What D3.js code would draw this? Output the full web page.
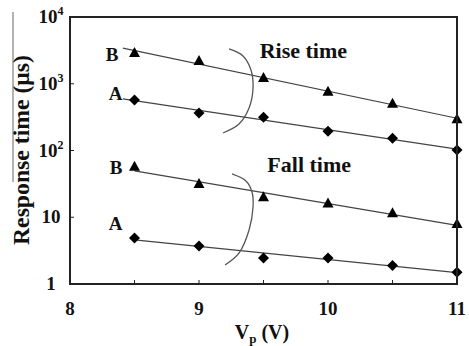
<!DOCTYPE html>
<html>
<head>
<meta charset="utf-8">
<script src="https://cdn.jsdelivr.net/npm/d3@7"></script>
<style>
  html, body { margin: 0; padding: 0; background: #fff; }
  svg { display: block; }
</style>
</head>
<body>
<svg id="chart" width="469" height="346"></svg>
<script>
// Applied voltage Vp (V)
const voltages = [8.5, 9, 9.5, 10, 10.5, 11];

// Response times in microseconds
const riseB = [2900, 2200, 1220, 760, 500, 295];
const riseA = [570, 365, 315, 195, 153, 102];
const fallB = [57, 31.6, 20, 16, 11.5, 7.9];
const fallA = [4.9, 3.7, 2.45, 2.45, 1.9, 1.5];

const seriesNames = ["B", "A", "B", "A"];
const seriesShapes = ["triangle", "diamond", "triangle", "diamond"];
const fitStart = [8.41, 8.41, 8.5, 8.5];

const xTicks = [8, 8.5, 9, 9.5, 10, 10.5, 11];
const xTickLabels = ["8", "", "9", "", "10", "", "11"];
const yTicks = [1, 10, 100, 1000, 10000];
const yTickLabels = [["1", ""], ["10", ""], ["10", "2"], ["10", "3"], ["10", "4"]];

// Bracket curves grouping each pair of series: [voltage, time]
const riseBracket = [[9.233, 3318], [9.341, 2606], [9.403, 1607], [9.419, 863], [9.388, 433], [9.310, 249], [9.186, 183]];
const fallBracket = [[9.256, 44.5], [9.364, 34.9], [9.411, 23.9], [9.419, 14.2], [9.388, 6.44], [9.310, 2.91], [9.202, 1.93]];
const groupTitles = [["Rise time", 9.47, 2430], ["Fall time", 9.53, 48]];

const FONT = '"Liberation Serif", "Times New Roman", serif';

const margin = { left: 70, top: 17, right: 12, bottom: 62 };
const W = 469, H = 346;
const iw = W - margin.left - margin.right;
const ih = H - margin.top - margin.bottom;

const svg = d3.select("#chart");
const g = svg.append("g").attr("transform", `translate(${margin.left},${margin.top})`);

const x = d3.scaleLinear().domain([8, 11]).range([0, iw]);
const y = d3.scaleLog().domain([1, 10000]).range([ih, 0]);

const series = [riseB, riseA, fallB, fallA];

// Least-squares fit of log10(time) against voltage
function fit(vals) {
  const lx = voltages, ly = vals.map(v => Math.log10(v));
  const mx = d3.mean(lx), my = d3.mean(ly);
  let sxy = 0, sxx = 0;
  lx.forEach((xv, i) => { sxy += (xv - mx) * (ly[i] - my); sxx += (xv - mx) ** 2; });
  const b = sxy / sxx, a = my - b * mx;
  return v => Math.pow(10, a + b * v);
}

const line = d3.line().x(d => x(d[0])).y(d => y(d[1]));

series.forEach((vals, i) => {
  const f = fit(vals);
  g.append("path")
    .attr("d", line([[fitStart[i], f(fitStart[i])], [11, f(11)]]))
    .attr("fill", "none")
    .attr("stroke", "#444")
    .attr("stroke-width", 1.2);
});

// Markers: filled triangle and square diamond
const triPath = "M0,-6L5.5,4L-5.5,4Z";
const diaPath = "M0,-5.5L5.5,0L0,5.5L-5.5,0Z";
series.forEach((vals, i) => {
  g.selectAll(null)
    .data(vals.map((v, j) => [voltages[j], v]))
    .join("path")
    .attr("transform", d => `translate(${x(d[0])},${y(d[1])})`)
    .attr("d", seriesShapes[i] === "triangle" ? triPath : diaPath)
    .attr("fill", "#000");
});

function txt(sel) {
  return sel.style("font-family", FONT).attr("fill", "#111");
}

// Series labels
const labelOffsets = [[-16, 8], [-12, 0], [-12, 7], [-12, -8]];
series.forEach((vals, i) => {
  txt(g.append("text"))
    .attr("x", x(voltages[0]) + labelOffsets[i][0])
    .attr("y", y(vals[0]) + labelOffsets[i][1])
    .attr("text-anchor", "end")
    .attr("font-size", 19)
    .attr("font-weight", "bold")
    .text(seriesNames[i]);
});

// Brackets
const curve = d3.line().x(d => x(d[0])).y(d => y(d[1])).curve(d3.curveCatmullRom);
[riseBracket, fallBracket].forEach(b => {
  g.append("path")
    .attr("d", curve(b))
    .attr("fill", "none")
    .attr("stroke", "#555")
    .attr("stroke-width", 1.3);
});

groupTitles.forEach(t => {
  txt(g.append("text"))
    .attr("x", x(t[1]))
    .attr("y", y(t[2]))
    .attr("font-size", 22)
    .attr("font-weight", "bold")
    .text(t[0]);
});

// Frame
g.append("rect")
  .attr("x", 0).attr("y", 0).attr("width", iw).attr("height", ih)
  .attr("fill", "none").attr("stroke", "#222").attr("stroke-width", 2);

// X ticks (inward) and labels
g.selectAll(null).data(xTicks.filter(v => v > 8 && v < 11)).join("line")
  .attr("x1", d => x(d)).attr("x2", d => x(d))
  .attr("y1", ih).attr("y2", ih - 4)
  .attr("stroke", "#222").attr("stroke-width", 1);
txt(g.selectAll(null).data(xTicks.map((v, i) => [v, xTickLabels[i]]).filter(d => d[1])).join("text"))
  .attr("x", d => x(d[0]))
  .attr("y", ih + 31)
  .attr("text-anchor", "middle")
  .attr("font-size", 19)
  .attr("font-weight", "bold")
  .text(d => d[1]);

// Y ticks (inward) and labels
g.selectAll(null).data(yTicks.filter(v => v > 1 && v < 10000)).join("line")
  .attr("x1", 0).attr("x2", 4)
  .attr("y1", d => y(d)).attr("y2", d => y(d))
  .attr("stroke", "#222").attr("stroke-width", 1);
yTicks.forEach((v, i) => {
  const t = txt(g.append("text"))
    .attr("x", -19)
    .attr("y", y(v) + 6)
    .attr("text-anchor", "middle")
    .attr("font-size", 19)
    .attr("font-weight", "bold");
  t.append("tspan").text(yTickLabels[i][0]);
  if (yTickLabels[i][1]) {
    t.append("tspan").attr("font-size", 12).attr("dy", -8).text(yTickLabels[i][1]);
  }
});

// Axis titles
const xt = txt(svg.append("text"))
  .attr("x", 262)
  .attr("y", 339)
  .attr("text-anchor", "middle")
  .attr("font-size", 20)
  .attr("font-weight", "bold");
xt.append("tspan").text("V");
xt.append("tspan").attr("font-size", 13).attr("dy", 4).text("p");
xt.append("tspan").attr("dy", -4).text(" (V)");

// Vertical title: sized to run from y=245 up to y=55
const yTitle = txt(svg.append("text"))
  .attr("transform", "translate(29,245) rotate(-90)")
  .attr("text-anchor", "start")
  .attr("font-size", 20)
  .attr("font-weight", "bold")
  .text("Response time (μs)");
const len = yTitle.node().getComputedTextLength();
if (len > 0) yTitle.attr("font-size", 20 * 190 / len);

svg.append("line")
  .attr("x1", 13).attr("x2", 13).attr("y1", 12).attr("y2", 182)
  .attr("stroke", "#666").attr("stroke-width", 1);
</script>
</body>
</html>
